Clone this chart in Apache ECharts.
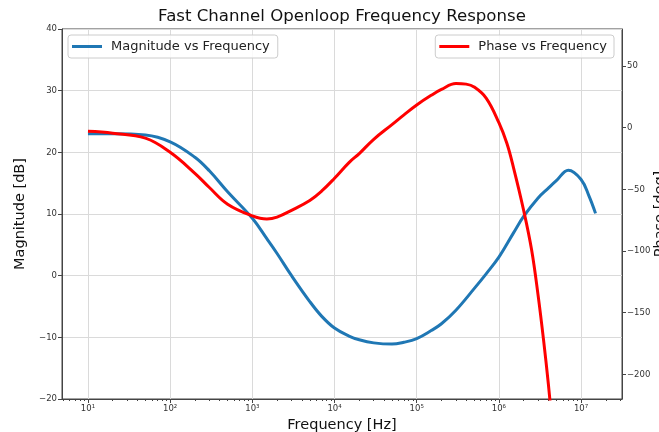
<!DOCTYPE html>
<html>
<head>
<meta charset="utf-8">
<script src="https://cdn.jsdelivr.net/npm/echarts@6/dist/echarts.min.js"></script>
<style>
html,body{margin:0;padding:0;background:#fff;}
#chart{width:659px;height:432px;}
</style>
</head>
<body>
<div id="chart"></div>
<script>
// ---- data ----
const freqMag = [10, 20, 50, 100, 200, 300, 500, 1e3, 1.5e3, 2e3, 3e3, 5e3, 7e3, 1e4, 1.5e4, 2e4, 3e4, 5e4, 7e4, 1e5, 1.5e5, 2e5, 3e5, 5e5, 7e5, 1e6, 1.5e6, 2e6, 3e6, 4e6, 5e6, 7e6, 1e7, 1.25e7, 1.5e7];
const magDb = [23.0, 23.0, 22.8, 21.7, 19.2, 17.0, 13.6, 9.3, 6.0, 3.6, 0.0, -4.2, -6.6, -8.5, -9.8, -10.4, -10.9, -11.1, -10.8, -10.2, -8.9, -7.8, -5.6, -2.1, 0.3, 3.0, 6.9, 9.6, 12.6, 14.2, 15.4, 17.1, 15.6, 12.9, 10.1];

const freqPhase = [10, 20, 50, 100, 200, 300, 500, 1e3, 1.5e3, 2e3, 3e3, 5e3, 7e3, 1e4, 1.5e4, 2e4, 3e4, 5e4, 7e4, 1e5, 1.5e5, 2e5, 3e5, 4e5, 5e5, 7e5, 1e6, 1.25e6, 1.5e6, 2e6, 2.5e6, 3e6, 3.5e6, 4e6, 4.5e6];
const phaseDeg = [-3.0, -4.5, -8.5, -20.0, -37.0, -48.5, -62.0, -71.5, -74.0, -72.5, -67.0, -59.0, -51.3, -41.0, -28.3, -21.0, -9.4, 2.5, 10.4, 18.4, 26.2, 31.0, 35.8, 35.3, 33.0, 24.0, 4.0, -12.7, -32.0, -67.0, -99.0, -136.0, -172.5, -208.0, -244.0];

const decadeTicks = [1e1, 1e2, 1e3, 1e4, 1e5, 1e6, 1e7];
const magTicks = [-20, -10, 0, 10, 20, 30, 40];
const phaseTicks = [50, 0, -50, -100, -150, -200];
const minorMantissas = [2, 3, 4, 5, 6, 7, 8, 9];
const minorDecades = [1, 10, 100, 1e3, 1e4, 1e5, 1e6, 1e7];

const seriesNames = ['Magnitude vs Frequency', 'Phase vs Frequency'];

// ---- axis extents ----
const xMin = Math.pow(10, 0.684);
const xMax = Math.pow(10, 7.498);

const minorTicks = [];
minorDecades.forEach(d => minorMantissas.forEach(m => {
  const v = m * d;
  if (v >= xMin && v <= xMax) minorTicks.push(v);
}));

const SUP = {'0':'\u2070','1':'\u00b9','2':'\u00b2','3':'\u00b3','4':'\u2074','5':'\u2075','6':'\u2076','7':'\u2077','8':'\u2078','9':'\u2079'};
function decadeLabel(v) {
  const e = Math.log10(v);
  const r = Math.round(e);
  if (Math.abs(e - r) > 1e-6) return '';
  return '10' + String(r).split('').map(c => SUP[c] || c).join('');
}
function minusFmt(v) { return String(v).replace('-', '\u2212'); }

const FONT = 'DejaVu Sans';
const axisColor = '#444';
const gridColor = '#dadada';

const chart = echarts.init(document.getElementById('chart'), null, {renderer: 'canvas'});
chart.setOption({
  animation: false,
  textStyle: {fontFamily: FONT},
  title: {
    text: 'Fast Channel Openloop Frequency Response',
    left: 342, top: 8, textAlign: 'center', padding: 0,
    textStyle: {fontFamily: FONT, fontSize: 16.6, fontWeight: 'normal', color: '#111'}
  },
  grid: {left: 62, right: 37, top: 29, bottom: 33, containLabel: false, outerBoundsMode: 'none',
         show: true, borderColor: axisColor, borderWidth: 1, backgroundColor: 'transparent'},
  graphic: [{
    type: 'text', x: 660, y: 214, rotation: Math.PI / 2, silent: true,
    style: {text: 'Phase [deg]', fontFamily: FONT, fontSize: 14.5, fill: '#111', align: 'center', verticalAlign: 'middle'}
  }],
  legend: [
    {
      data: [seriesNames[0]], left: 68, top: 35, padding: [5, 8, 5, 4],
      icon: 'rect', itemWidth: 30, itemHeight: 3,
      borderColor: '#cccccc', borderWidth: 1, borderRadius: 3, backgroundColor: 'rgba(255,255,255,0.85)',
      textStyle: {fontFamily: FONT, fontSize: 13, color: '#222', padding: [0, 0, 0, 4]}
    },
    {
      data: [seriesNames[1]], right: 45, top: 35, padding: [5, 7, 5, 4],
      icon: 'rect', itemWidth: 30, itemHeight: 3,
      borderColor: '#cccccc', borderWidth: 1, borderRadius: 3, backgroundColor: 'rgba(255,255,255,0.85)',
      textStyle: {fontFamily: FONT, fontSize: 13, color: '#222', padding: [0, 0, 0, 4]}
    }
  ],
  xAxis: [
    {
      type: 'log', logBase: 10, min: xMin, max: xMax, position: 'bottom',
      name: 'Frequency [Hz]', nameLocation: 'middle', nameGap: 15,
      nameTextStyle: {fontFamily: FONT, fontSize: 14.5, color: '#111'},
      axisLine: {show: true, onZero: false, lineStyle: {color: axisColor, width: 1}},
      axisTick: {show: true, length: 4, customValues: decadeTicks, lineStyle: {color: axisColor}},
      axisLabel: {customValues: decadeTicks, formatter: decadeLabel, fontSize: 8.5, color: '#333', margin: 5, fontFamily: FONT},
      splitLine: {show: true, lineStyle: {color: gridColor, width: 1}},
      minorTick: {show: false}
    },
    {
      type: 'log', logBase: 10, min: xMin, max: xMax, position: 'bottom', gridIndex: 0,
      axisLine: {show: false, onZero: false},
      axisTick: {show: true, length: 2, customValues: minorTicks, lineStyle: {color: axisColor}},
      axisLabel: {show: false},
      splitLine: {show: false}
    }
  ],
  yAxis: [
    {
      type: 'value', min: -20, max: 40, interval: 10, position: 'left',
      name: 'Magnitude [dB]', nameLocation: 'middle', nameGap: 26, nameRotate: 90,
      nameTextStyle: {fontFamily: FONT, fontSize: 14.5, color: '#111'},
      axisLine: {show: true, onZero: false, lineStyle: {color: axisColor, width: 1}},
      axisTick: {show: true, length: 4, lineStyle: {color: axisColor}},
      axisLabel: {formatter: minusFmt, fontSize: 8.5, color: '#333', margin: 5, fontFamily: FONT},
      splitLine: {show: true, lineStyle: {color: gridColor, width: 1}}
    },
    {
      type: 'value', min: -220, max: 80, position: 'right',
      axisLine: {show: true, onZero: false, lineStyle: {color: axisColor, width: 1}},
      axisTick: {show: true, length: 4, customValues: phaseTicks, lineStyle: {color: axisColor}},
      axisLabel: {customValues: phaseTicks, formatter: minusFmt, fontSize: 8.5, color: '#333', margin: 5, fontFamily: FONT},
      splitLine: {show: false}
    }
  ],
  series: [
    {
      name: seriesNames[0], type: 'line', xAxisIndex: 0, yAxisIndex: 0,
      data: freqMag.map((f, i) => [f, magDb[i]]),
      showSymbol: false, symbol: 'none', smooth: 0.4, clip: true,
      lineStyle: {color: '#1f77b4', width: 3}, itemStyle: {color: '#1f77b4'}, z: 2
    },
    {
      name: seriesNames[1], type: 'line', xAxisIndex: 0, yAxisIndex: 1,
      data: freqPhase.map((f, i) => [f, phaseDeg[i]]),
      showSymbol: false, symbol: 'none', smooth: 0.4, clip: true,
      lineStyle: {color: '#ff0000', width: 3}, itemStyle: {color: '#ff0000'}, z: 3
    }
  ]
});
</script>
</body>
</html>
